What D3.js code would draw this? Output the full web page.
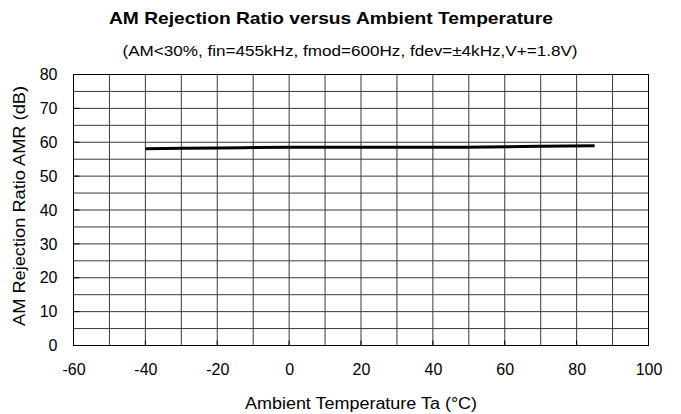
<!DOCTYPE html>
<html><head><meta charset="utf-8">
<script src="https://cdn.jsdelivr.net/npm/d3@7/dist/d3.min.js"></script>
<style>body{margin:0;background:#fff;}svg{display:block;font-family:"Liberation Sans",Arial,sans-serif;}</style>
</head><body>
<svg id="c" width="681" height="414"></svg>
<script>
const temps = [-40, -20, 0, 20, 40, 55, 70, 85];
const amr = [58.1, 58.3, 58.5, 58.5, 58.5, 58.6, 58.8, 59.0];
const xTicks = [-60, -40, -20, 0, 20, 40, 60, 80, 100];
const yTicks = [0, 10, 20, 30, 40, 50, 60, 70, 80];
const title = "AM Rejection Ratio versus Ambient Temperature";
const subtitle = "(AM<30%, fin=455kHz, fmod=600Hz, fdev=±4kHz,V+=1.8V)";
const xTitle = "Ambient Temperature Ta (°C)";
const yTitle = "AM Rejection Ratio AMR (dB)";

const svg = d3.select("#c");
const L = 73.5, R = 648.5, T = 74.5, B = 345.5;
const x = d3.scaleLinear().domain([-60, 100]).range([L, R]);
const y = d3.scaleLinear().domain([0, 80]).range([B, T]);

const g = svg.append("g");
g.selectAll(".vg").data(d3.range(-50, 100, 10)).join("line")
  .attr("x1", d => x(d)).attr("x2", d => x(d)).attr("y1", T).attr("y2", B)
  .attr("stroke", "#3a3a3a").attr("stroke-width", 1);
g.selectAll(".hg").data(d3.range(5, 80, 5)).join("line")
  .attr("y1", d => y(d)).attr("y2", d => y(d)).attr("x1", L).attr("x2", R)
  .attr("stroke", "#3a3a3a").attr("stroke-width", 1);
g.append("rect").attr("x", L).attr("y", T).attr("width", R - L).attr("height", B - T)
  .attr("fill", "none").attr("stroke", "#000").attr("stroke-width", 1);

const fmt = d => String(d);
const xAxis = d3.axisBottom(x).tickValues(xTicks).tickFormat(fmt).tickSize(0).tickPadding(18);
const yAxis = d3.axisLeft(y).tickValues(yTicks).tickFormat(fmt).tickSize(0).tickPadding(16);
const xa = svg.append("g").attr("transform", `translate(0,${B})`).call(xAxis);
const ya = svg.append("g").attr("transform", `translate(${L},0)`).call(yAxis);
[xa, ya].forEach(a => {
  a.select(".domain").remove();
  a.selectAll("text").attr("font-size", 16).attr("fill", "#000")
    .attr("font-family", "'Liberation Sans', Arial, sans-serif");
});
g.selectAll(".yt").data(yTicks).join("line")
  .attr("x1", L).attr("x2", L + 6).attr("y1", d => y(d)).attr("y2", d => y(d))
  .attr("stroke", "#000");
g.selectAll(".xt").data(xTicks).join("line")
  .attr("x1", d => x(d)).attr("x2", d => x(d)).attr("y1", B).attr("y2", B - 5)
  .attr("stroke", "#000");

const line = d3.line().x((d, i) => x(temps[i])).y(d => y(d)).curve(d3.curveMonotoneX);
svg.append("path").datum(amr).attr("d", line)
  .attr("fill", "none").attr("stroke", "#000").attr("stroke-width", 3);

svg.append("text").attr("x", 331).attr("y", 24).attr("text-anchor", "middle")
  .attr("font-size", 17).attr("font-weight", "bold").attr("textLength", 444)
  .attr("lengthAdjust", "spacingAndGlyphs").text(title);
svg.append("text").attr("x", 350).attr("y", 56).attr("text-anchor", "middle")
  .attr("font-size", 15).attr("textLength", 455).attr("lengthAdjust", "spacingAndGlyphs").text(subtitle);
svg.append("text").attr("x", 361).attr("y", 409).attr("text-anchor", "middle")
  .attr("font-size", 16).attr("textLength", 232).attr("lengthAdjust", "spacingAndGlyphs").text(xTitle);
svg.append("text").attr("transform", "translate(25,206) rotate(-90)")
  .attr("text-anchor", "middle").attr("font-size", 16)
  .attr("textLength", 240).attr("lengthAdjust", "spacingAndGlyphs").text(yTitle);
</script>
</body></html>
